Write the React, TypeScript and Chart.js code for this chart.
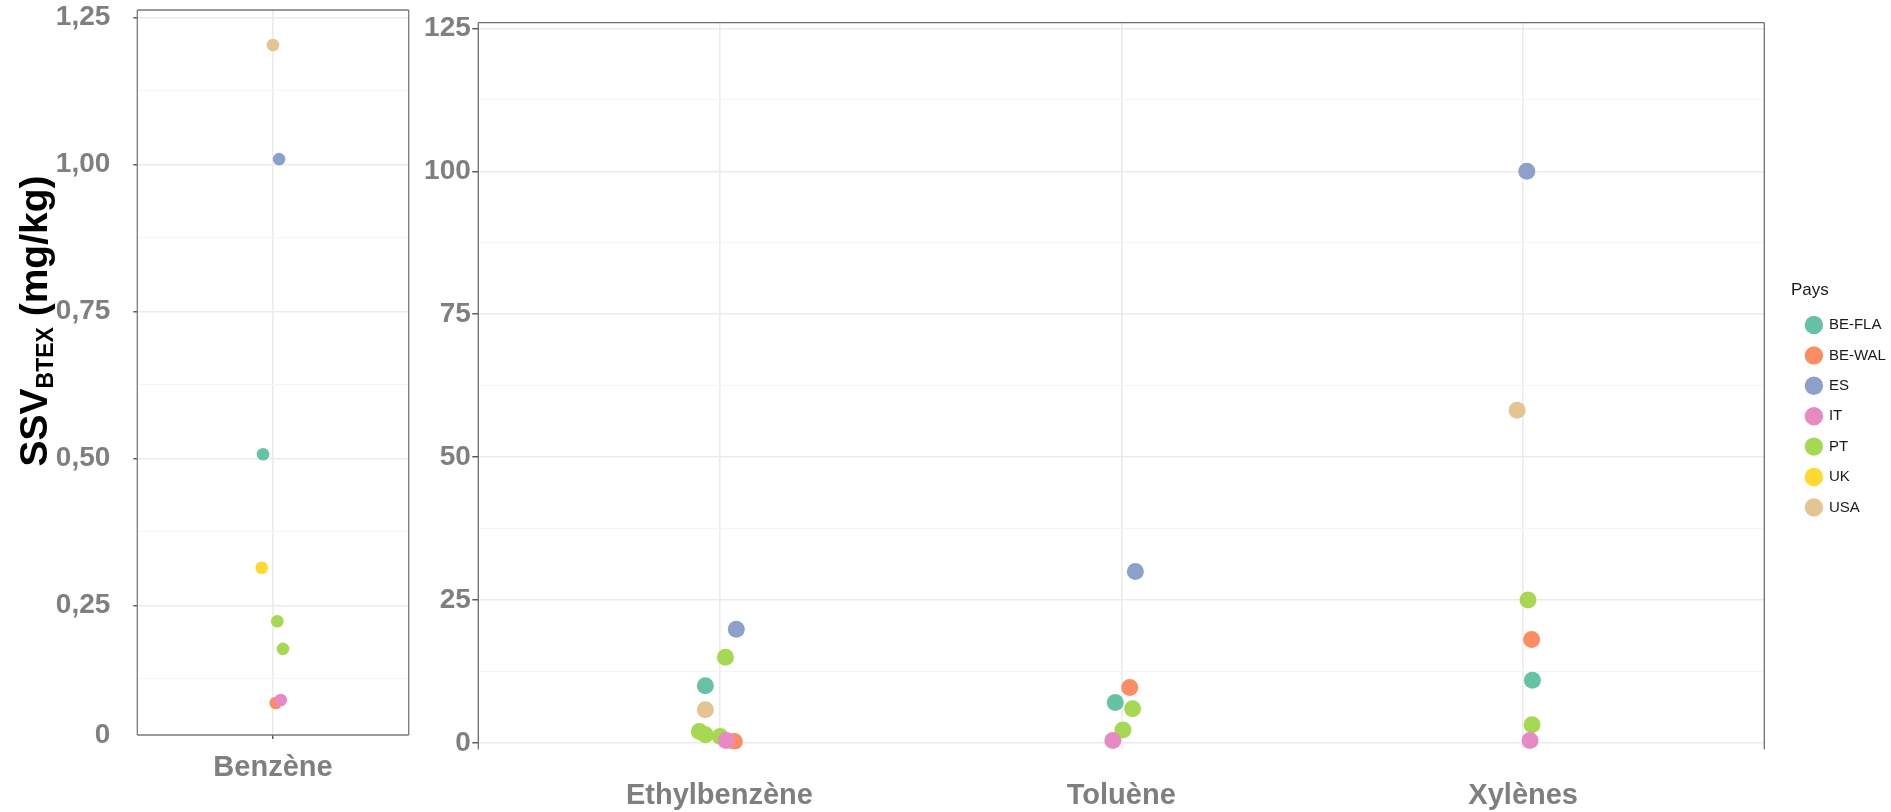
import React, { useEffect, useRef } from "react";
import { Chart, registerables } from "chart.js";

Chart.register(...registerables);

// ---------- Data ----------
const countries = ["BE-FLA", "BE-WAL", "ES", "IT", "PT", "UK", "USA"];
const countryColors = ["#66c2a5", "#fc8d62", "#8da0cb", "#e78ac3", "#a6d854", "#ffd92f", "#e5c494"];

// Left panel (Benzène)
const benzeneCategories = ["Benzène"];
const benzeneCountry = ["USA", "ES", "BE-FLA", "UK", "PT", "PT", "BE-WAL", "IT"];
const benzeneValue = [1.203, 1.009, 0.507, 0.314, 0.223, 0.176, 0.084, 0.089];
const benzeneJitter = [0.0, 0.027, -0.044, -0.05, 0.019, 0.044, 0.012, 0.034];
const benzeneAxisMin = 0.0296;
const benzeneAxisMax = 1.2626;
const benzeneTickValues = [0.0296, 0.25, 0.5, 0.75, 1.0, 1.25];
const benzeneTickLabels = ["0", "0,25", "0,50", "0,75", "1,00", "1,25"];
const benzeneMinorTicks = [0.125, 0.375, 0.625, 0.875, 1.125];

// Right panel (Ethylbenzène, Toluène, Xylènes)
const otherCategories = ["Ethylbenzène", "Toluène", "Xylènes"];
const otherCompound = [
  "Ethylbenzène", "Ethylbenzène", "Ethylbenzène", "Ethylbenzène", "Ethylbenzène",
  "Ethylbenzène", "Ethylbenzène", "Ethylbenzène", "Ethylbenzène",
  "Toluène", "Toluène", "Toluène", "Toluène", "Toluène", "Toluène",
  "Xylènes", "Xylènes", "Xylènes", "Xylènes", "Xylènes", "Xylènes", "Xylènes",
];
const otherCountry = [
  "ES", "PT", "BE-FLA", "USA", "PT", "PT", "PT", "BE-WAL", "IT",
  "ES", "BE-WAL", "BE-FLA", "PT", "PT", "IT",
  "ES", "USA", "PT", "BE-WAL", "BE-FLA", "PT", "IT",
];
const otherValue = [
  19.9, 15.0, 10.0, 5.8, 2.0, 1.45, 1.15, 0.28, 0.45,
  30.0, 9.7, 7.07, 5.98, 2.26, 0.45,
  100.0, 58.2, 25.0, 18.1, 10.96, 3.2, 0.45,
];
const otherJitter = [
  0.042, 0.015, -0.035, -0.035, -0.05, -0.035, 0.002, 0.037, 0.017,
  0.035, 0.021, -0.015, 0.028, 0.004, -0.021,
  0.009, -0.015, 0.012, 0.021, 0.023, 0.022, 0.017,
];
const otherAxisMin = -1.1;
const otherAxisMax = 126;
const otherTickValues = [0, 25, 50, 75, 100, 125];
const otherTickLabels = ["0", "25", "50", "75", "100", "125"];
const otherMinorTicks = [12.5, 37.5, 62.5, 87.5, 112.5];

const yTitleMain = "SSV";
const yTitleSub = "BTEX";
const yTitleUnit = " (mg/kg)";
const legendTitle = "Pays";

// ---------- Styling ----------
const FAMILY = "'Liberation Sans', Arial, Helvetica, sans-serif";
const TICK_GRAY = "#7f7f7f";
const MAJOR_GRID = "#ebebeb";
const MINOR_GRID = "#f4f4f4";
const FRAME = "#777777";

Chart.defaults.font.family = FAMILY;

function buildDatasets(
  cats: string[],
  catOf: string[],
  ctryOf: string[],
  vals: number[],
  jit: number[],
  radius: number
) {
  return countries.map((c, i) => {
    const data: { x: number; y: number }[] = [];
    vals.forEach((v, k) => {
      if (ctryOf[k] === c) data.push({ x: cats.indexOf(catOf[k]) + jit[k], y: v });
    });
    return {
      label: c,
      data,
      backgroundColor: countryColors[i],
      borderColor: countryColors[i],
      borderWidth: 0,
      pointRadius: radius,
      pointHoverRadius: radius,
      pointStyle: "circle",
      order: c === "IT" ? 0 : i + 1,
    };
  });
}

const framePlugin = {
  id: "frame",
  afterDraw(chart: any, _args: any, opts: any) {
    const { ctx, chartArea } = chart;
    const { left, right, top, bottom } = chartArea;
    const sides: string[] = opts.sides || [];
    ctx.save();
    ctx.strokeStyle = opts.color || FRAME;
    ctx.lineWidth = opts.width || 1.2;
    ctx.beginPath();
    if (sides.includes("top")) { ctx.moveTo(left, top); ctx.lineTo(right, top); }
    if (sides.includes("bottom")) { ctx.moveTo(left, bottom); ctx.lineTo(right, bottom); }
    if (sides.includes("left")) { ctx.moveTo(left, top); ctx.lineTo(left, bottom); }
    if (sides.includes("right")) { ctx.moveTo(right, top); ctx.lineTo(right, bottom); }
    ctx.stroke();
    ctx.restore();
  },
};

const yTitlePlugin = {
  id: "ytitle",
  afterDraw(chart: any) {
    const ctx = chart.ctx;
    ctx.save();
    const fMain = `bold 39px ${FAMILY}`;
    const fSub = `bold 23px ${FAMILY}`;
    ctx.font = fMain;
    const w1 = ctx.measureText(yTitleMain).width;
    const w3 = ctx.measureText(yTitleUnit).width;
    ctx.font = fSub;
    const w2 = ctx.measureText(yTitleSub).width;
    const total = w1 + w2 + w3;
    ctx.translate(47, 321 + total / 2);
    ctx.rotate(-Math.PI / 2);
    ctx.fillStyle = "#000000";
    ctx.textAlign = "left";
    ctx.textBaseline = "alphabetic";
    ctx.font = fMain;
    ctx.fillText(yTitleMain, 0, 0);
    ctx.font = fSub;
    ctx.fillText(yTitleSub, w1, 6);
    ctx.font = fMain;
    ctx.fillText(yTitleUnit, w1 + w2, 0);
    ctx.restore();
  },
};

function yScale(
  min: number,
  max: number,
  tickValues: number[],
  tickLabels: string[],
  minor: number[],
  width: number,
  tickLength: number,
  padding: number,
  hideFirstTickMark: boolean
) {
  const isMinor = (v: number) => minor.includes(v);
  return {
    type: "linear",
    min,
    max,
    bounds: "data",
    afterBuildTicks: (s: any) => {
      const all = [...tickValues, ...minor].sort((a, b) => a - b);
      s.ticks = all.map((v) => ({ value: v }));
    },
    afterFit: (s: any) => {
      s.width = width;
      s.paddingTop = 0;
      s.paddingBottom = 0;
    },
    ticks: {
      autoSkip: false,
      padding,
      color: TICK_GRAY,
      font: { size: 28, weight: "bold", family: FAMILY },
      callback: (v: number) => {
        const i = tickValues.indexOf(v);
        return i >= 0 ? tickLabels[i] : "";
      },
    },
    grid: {
      drawTicks: true,
      tickLength,
      color: (c: any) => {
        const v = c.tick ? c.tick.value : 0;
        if (hideFirstTickMark && v === min) return "rgba(0,0,0,0)";
        return isMinor(v) ? MINOR_GRID : MAJOR_GRID;
      },
      lineWidth: (c: any) => (c.tick && isMinor(c.tick.value) ? 1 : 1.6),
      tickColor: (c: any) => {
        const v = c.tick ? c.tick.value : 0;
        if (isMinor(v)) return "rgba(0,0,0,0)";
        if (hideFirstTickMark && v === min) return "rgba(0,0,0,0)";
        return "#333333";
      },
      tickWidth: 1.2,
    },
    border: { display: false },
  };
}

function xScale(
  cats: string[],
  height: number,
  drawTicks: boolean,
  tickLength: number,
  padding: number
) {
  return {
    type: "linear",
    min: -0.6,
    max: cats.length - 1 + 0.6,
    bounds: "data",
    afterBuildTicks: (s: any) => {
      s.ticks = cats.map((_, i) => ({ value: i }));
    },
    afterFit: (s: any) => {
      s.height = height;
      s.paddingLeft = 0;
      s.paddingRight = 0;
    },
    ticks: {
      autoSkip: false,
      maxRotation: 0,
      minRotation: 0,
      padding,
      color: TICK_GRAY,
      font: { size: 29, weight: "bold", family: FAMILY },
      callback: (v: number) => (Number.isInteger(v) && cats[v] !== undefined ? cats[v] : ""),
    },
    grid: {
      color: MAJOR_GRID,
      lineWidth: 1.6,
      drawTicks,
      tickLength,
      tickColor: "#333333",
      tickWidth: 1.2,
    },
    border: { display: false },
  };
}

export default function App() {
  const leftRef = useRef<HTMLCanvasElement | null>(null);
  const rightRef = useRef<HTMLCanvasElement | null>(null);

  useEffect(() => {
    const left = new Chart(leftRef.current as HTMLCanvasElement, {
      type: "scatter",
      data: {
        datasets: buildDatasets(
          benzeneCategories,
          benzeneCountry.map(() => "Benzène"),
          benzeneCountry,
          benzeneValue,
          benzeneJitter,
          6.3
        ) as any,
      },
      options: {
        responsive: false,
        animation: false,
        events: [],
        layout: { padding: { top: 10, right: 11.3, left: 0, bottom: 0 } },
        scales: {
          x: xScale(benzeneCategories, 77, true, 4, 12) as any,
          y: yScale(
            benzeneAxisMin,
            benzeneAxisMax,
            benzeneTickValues,
            benzeneTickLabels,
            benzeneMinorTicks,
            137.3,
            4,
            23,
            true
          ) as any,
        },
        plugins: {
          legend: { display: false },
          tooltip: { enabled: false },
          frame: { sides: ["top", "bottom", "left", "right"], color: "#7a7a7a", width: 1.3 },
        } as any,
      },
      plugins: [framePlugin, yTitlePlugin],
    });

    const right = new Chart(rightRef.current as HTMLCanvasElement, {
      type: "scatter",
      data: {
        datasets: buildDatasets(
          otherCategories,
          otherCompound,
          otherCountry,
          otherValue,
          otherJitter,
          8.5
        ) as any,
      },
      options: {
        responsive: false,
        animation: false,
        events: [],
        layout: { padding: 0 },
        scales: {
          x: xScale(otherCategories, 62.7, false, 0, 29) as any,
          y: yScale(
            otherAxisMin,
            otherAxisMax,
            otherTickValues,
            otherTickLabels,
            otherMinorTicks,
            58.3,
            6,
            1.5,
            false
          ) as any,
          x2: {
            type: "linear",
            position: "top",
            min: 0,
            max: 1,
            ticks: { display: false },
            grid: { display: false, drawTicks: false },
            border: { display: false },
            afterFit: (s: any) => { s.height = 22.7; },
          } as any,
          y2: {
            type: "linear",
            position: "right",
            min: 0,
            max: 1,
            ticks: { display: false },
            grid: { display: false, drawTicks: false },
            border: { display: false },
            afterFit: (s: any) => { s.width = 26.7; },
          } as any,
        },
        plugins: {
          tooltip: { enabled: false },
          legend: {
            display: true,
            position: "right",
            align: "center",
            maxWidth: 100,
            title: {
              display: true,
              text: legendTitle,
              position: "start",
              color: "#1a1a1a",
              font: { size: 17, family: FAMILY },
            },
            labels: {
              usePointStyle: true,
              pointStyle: "circle",
              boxWidth: 15,
              boxHeight: 13,
              padding: 15.4,
              color: "#1a1a1a",
              font: { size: 15, family: FAMILY },
              sort: (a: any, b: any) => a.datasetIndex - b.datasetIndex,
            },
          },
          frame: { sides: ["top", "left", "right"], color: "#6e6e6e", width: 1.3 },
        } as any,
      },
      plugins: [framePlugin],
    });

    return () => {
      left.destroy();
      right.destroy();
    };
  }, []);

  return (
    <div
      style={{
        position: "fixed",
        left: 0,
        top: 0,
        width: 1891,
        height: 812,
        overflow: "hidden",
        background: "#ffffff",
      }}
    >
      <canvas
        ref={leftRef}
        width={420}
        height={812}
        style={{ position: "absolute", left: 0, top: 0 }}
      />
      <canvas
        ref={rightRef}
        width={1471}
        height={812}
        style={{ position: "absolute", left: 420, top: 0 }}
      />
    </div>
  );
}
